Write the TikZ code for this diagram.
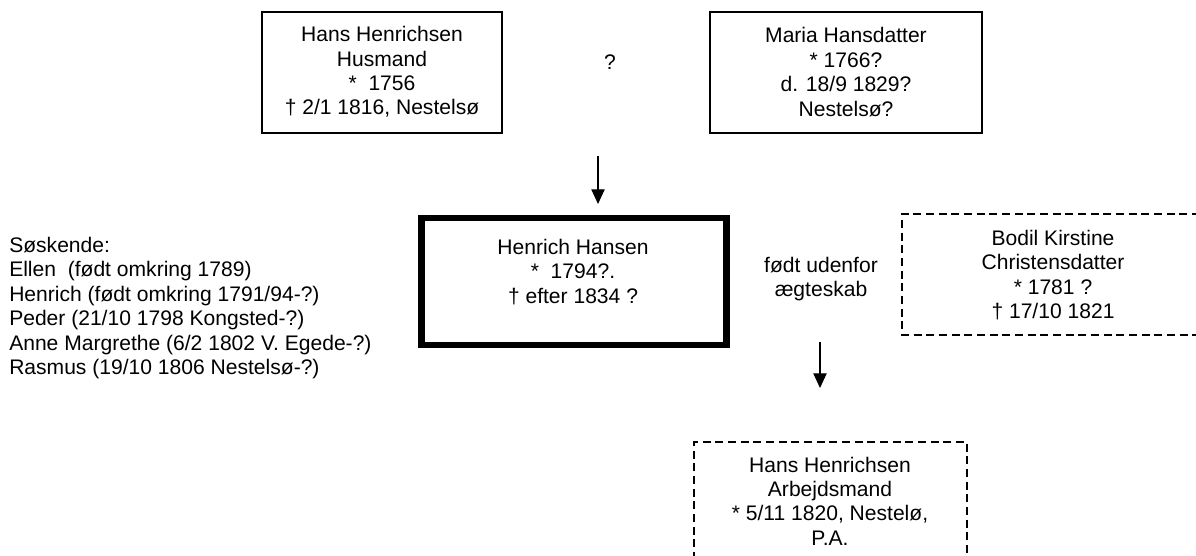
\documentclass[tikz,border=0pt]{standalone}
\usepackage{fontspec}
\setmainfont{Liberation Sans}
\usetikzlibrary{arrows.meta}
\begin{document}
\begin{tikzpicture}[x=0.75pt,y=-0.75pt,
  txt/.style={font=\fontsize{15.8}{18.3}\selectfont,align=center,inner sep=0pt},
  solidbox/.style={draw,line width=1.3pt,inner sep=0pt},
  dashbox/.style={draw,line width=1.3pt,dash pattern=on 6pt off 3.5pt,inner sep=0pt},
  thickbox/.style={draw,line width=5pt,inner sep=0pt},
  arr/.style={line width=0.8pt,-{Triangle[length=11pt,width=10pt]}}]
\useasboundingbox (0,0) rectangle (1196,556);
% boxes
\node[solidbox,minimum width=240*0.75pt,minimum height=121*0.75pt] (hansbox) at (382,72.5) {};
\node[solidbox,minimum width=272*0.75pt,minimum height=121*0.75pt] (mariabox) at (846,72.5) {};
\node[thickbox,minimum width=305*0.75pt,minimum height=127*0.75pt] (henrichbox) at (574,281.5) {};
\draw[dashbox] (1200,214) -- (902,214) -- (902,335) -- (1200,335);
\coordinate (bodilbox) at (1050,274.5);
\draw[dashbox] (694,560) -- (694,442) -- (967,442) -- (967,560);
\coordinate (sonbox) at (830,500);
% texts
\node[txt] (hans) at (382,72) {Hans Henrichsen\\Husmand\\*\ \ 1756\\† 2/1 1816, Nestelsø};
\node[txt] (maria) at (846,72) {Maria Hansdatter\\* 1766?\\d. 18/9 1829?\\Nestelsø?};
\node[txt] (q) at (610,62) {?};
\node[txt] (henrich) at (573,272) {Henrich Hansen\\*\ \ 1794?.\\† efter 1834 ?};
\node[txt] (note) at (821,279) {født udenfor\\ægteskab};
\node[txt] (bodil) at (1053,275) {Bodil Kirstine\\Christensdatter\\* 1781 ?\\† 17/10 1821};
\node[txt] (son) at (830,501) {Hans Henrichsen\\Arbejdsmand\\* 5/11 1820, Nestelø,\\P.A.};
\node[txt,align=left,anchor=west] (sibs) at (9,308) {Søskende:\\Ellen\ \ (født omkring 1789)\\Henrich (født omkring 1791/94-?)\\Peder (21/10 1798 Kongsted-?)\\Anne Margrethe (6/2 1802 V. Egede-?)\\Rasmus (19/10 1806 Nestelsø-?)};
% arrows
\coordinate (a1s) at (598,156);
\coordinate (a1e) at (598,204);
\coordinate (a2s) at (820,342);
\coordinate (a2e) at (820,388);
\draw[arr] (a1s) -- (a1e);
\draw[arr] (a2s) -- (a2e);
\end{tikzpicture}
\end{document}
